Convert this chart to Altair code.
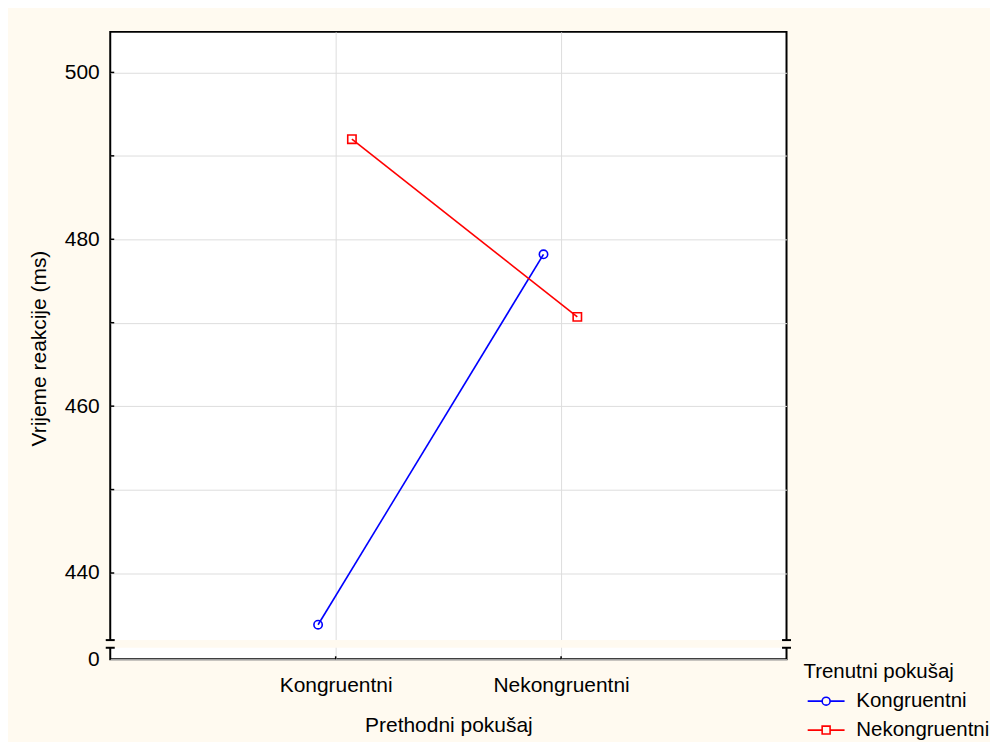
import altair as alt
import pandas as pd

# ---- data ----
prev_categories = ["Kongruentni", "Nekongruentni"]      # x categories (Prethodni pokušaj)
series_names = ["Kongruentni", "Nekongruentni"]         # series (Trenutni pokušaj)
rt_kongruentni = [433.8, 478.2]
rt_nekongruentni = [492.0, 470.7]
y_tick_values = [440, 450, 460, 470, 480, 490, 500]
y_bottom = 429.66          # shown as "0" below the axis break
y_top = 504.86
y_break = [431.04, 431.96]  # the break band on the y axis
series_colors = ["#0000FF", "#FF0000"]

rows = []
for s, vals in zip(series_names, [rt_kongruentni, rt_nekongruentni]):
    for p, v in zip(prev_categories, vals):
        rows.append({"prev": p, "cur": s, "rt": v})
df = pd.DataFrame(rows)

BG = "#FFFAF0"
W, H = 678, 629
FONT = "Liberation Sans"
FS = 21
LFS = 20.5

cat_js = "[" + ",".join("'%s'" % c for c in prev_categories) + "]"
label_expr = " : ".join(
    "datum.value == %d ? '%s'" % (i + 1, c) for i, c in enumerate(prev_categories)
) + " : ''"

base = alt.Chart(df).transform_calculate(
    xpos="indexof(%s, datum.prev) + 1 + (datum.cur === '%s' ? -0.078 : 0.072)"
    % (cat_js, series_names[0]),
    marker="datum.cur === '%s' ? 'circle' : 'square'" % series_names[0],
)

x_scale = alt.Scale(domain=[0, 3], nice=False, zero=False)
x_axis = alt.Axis(
    values=[1, 2],
    labelExpr=label_expr,
    title="Prethodni pokušaj",
    grid=True,
    gridColor="#DDDDDD",
    ticks=False,
    domain=False,
    labelPadding=15,
    titlePadding=19,
    zindex=0,
)
y_scale = alt.Scale(domain=[y_bottom, y_top], nice=False, zero=False)
y_axis = alt.Axis(
    values=[y_bottom] + y_tick_values,
    labelExpr="datum.value < 435 ? '0' : (datum.value % 20 == 0 ? datum.label : '')",
    title="Vrijeme reakcije (ms)",
    grid=True,
    gridColor="#DDDDDD",
    ticks=False,
    domain=False,
    labelPadding=11,
    titlePadding=15,
    titleY=317,
    zindex=0,
)
x_enc = alt.X("xpos:Q", scale=x_scale, axis=x_axis)
y_enc = alt.Y("rt:Q", scale=y_scale, axis=y_axis)
color_scale = alt.Scale(domain=series_names, range=series_colors)

path_circle = "M-0.68,0H0.89M1.75,0H3.32M1.75,0A0.43,0.43,0,1,1,0.89,0A0.43,0.43,0,1,1,1.75,0"
path_square = "M-0.68,0H0.89M1.75,0H3.32M0.89,-0.43H1.75V0.43H0.89Z"
leg = alt.Legend(
    title="Trenutni pokušaj",
    orient="none",
    legendX=695,
    legendY=632,
    titleFontSize=LFS,
    titleFontWeight="normal",
    titleColor="black",
    titleFont=FONT,
    titlePadding=8,
    labelFontSize=LFS,
    labelColor="black",
    labelFont=FONT,
    labelOffset=32,
    labelLimit=300,
    symbolSize=342,
    symbolStrokeWidth=1.6,
    rowPadding=8,
    padding=0,
)
color_enc = alt.Color("cur:N", scale=color_scale, legend=leg)

legend_layer = base.transform_filter("false").mark_point(
    filled=False, strokeWidth=1.6, opacity=1
).encode(
    x=x_enc,
    y=y_enc,
    color=color_enc,
    shape=alt.Shape(
        "cur:N",
        scale=alt.Scale(domain=series_names, range=[path_circle, path_square]),
        legend=leg,
    ),
)
lines = base.mark_line(strokeWidth=1.6).encode(x=x_enc, y=y_enc, color=color_enc)
points = base.mark_point(filled=False, size=70, strokeWidth=1.6, opacity=1).encode(
    x=x_enc,
    y=y_enc,
    color=color_enc,
    shape=alt.Shape("marker:N", scale=None),
)

# inward tick stubs on the y axis and at the x categories
yticks = alt.Chart(pd.DataFrame({"t": y_tick_values})).mark_rule(
    color="black", strokeWidth=1.5
).encode(y=alt.Y("t:Q", scale=y_scale, axis=y_axis), x=alt.value(0), x2=alt.value(4))
xticks = alt.Chart(pd.DataFrame({"c": [1, 2]})).mark_rule(
    color="black", strokeWidth=1.5
).encode(x=alt.X("c:Q", scale=x_scale, axis=x_axis), y=alt.value(H), y2=alt.value(H - 3))

band = alt.Chart(pd.DataFrame({"lo": [y_break[0]], "hi": [y_break[1]]})).mark_rect(
    color=BG
).encode(
    y=alt.Y("lo:Q", scale=y_scale, axis=y_axis),
    y2="hi:Q",
    x=alt.value(-6),
    x2=alt.value(W + 6),
)
brk = pd.DataFrame({"v": y_break})
dash_left = alt.Chart(brk).mark_rule(color="black", strokeWidth=2).encode(
    y=alt.Y("v:Q", scale=y_scale, axis=y_axis), x=alt.value(-4.5), x2=alt.value(4.5)
)
dash_right = alt.Chart(brk).mark_rule(color="black", strokeWidth=2).encode(
    y=alt.Y("v:Q", scale=y_scale, axis=y_axis), x=alt.value(W - 4.5), x2=alt.value(W + 4.5)
)

chart = (
    alt.layer(legend_layer, lines, points, yticks, xticks, band, dash_left, dash_right)
    .properties(
        width=W,
        height=H,
        background=BG,
        padding={"left": 19.5, "top": 23, "right": 0, "bottom": 0},
    )
    .configure_view(fill="white", stroke="black", strokeWidth=2)
    .configure_axis(
        labelFont=FONT,
        labelFontSize=FS,
        labelColor="black",
        titleFont=FONT,
        titleFontSize=FS,
        titleFontWeight="normal",
        titleColor="black",
    )
    .configure_text(font=FONT)
)

chart.save("out.html", embed_options={"renderer": "svg", "actions": False})
